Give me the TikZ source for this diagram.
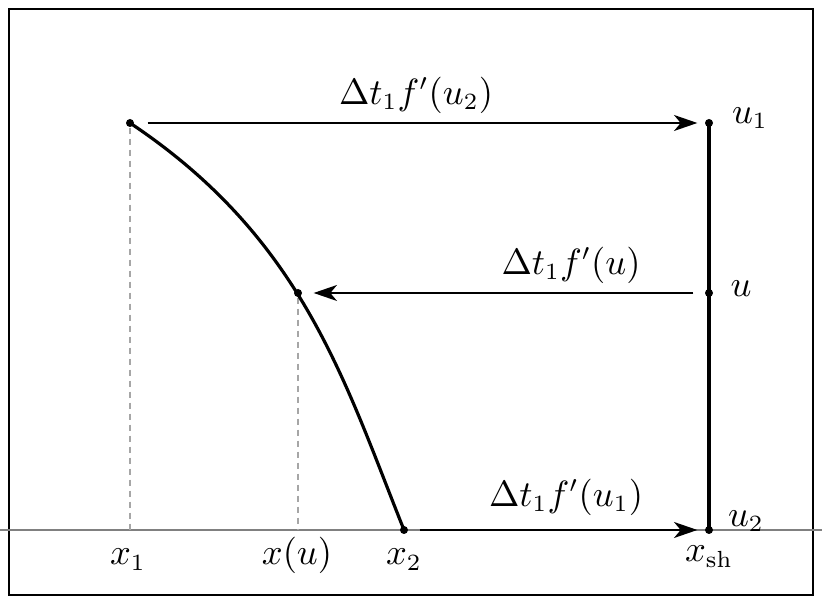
\documentclass[tikz,border=0pt]{standalone}
\usetikzlibrary{arrows.meta}
\begin{document}
\begin{tikzpicture}[x=0.3pt,y=-0.3pt,
  dotnode/.style={circle,fill=black,inner sep=0pt,minimum size=2.4pt},
  lbl/.style={inner sep=0pt,font=\fontsize{10.6}{12}\selectfont},
  flowarrow/.style={-{Stealth[length=7pt,width=4.8pt,inset=2pt]},line width=0.4pt},
  guide/.style={gray!70,dashed,dash pattern=on 2pt off 1.3pt,line width=0.45pt},
  thickline/.style={line width=0.95pt}]
\useasboundingbox (0,0) rectangle (822,604);
\draw[line width=0.6pt] (9,9) rectangle (813,595);
\draw[gray,line width=0.45pt] (0,530) -- (822,530);
% points
\node[dotnode] (p1) at (130,123) {};
\node[dotnode] (pu) at (298,293) {};
\node[dotnode] (p2) at (404,530) {};
\node[dotnode] (s1) at (709,123) {};
\node[dotnode] (su) at (709,293) {};
\node[dotnode] (s2) at (709,530) {};
\coordinate (b1) at (130,530);
\coordinate (bu) at (298,530);
% guides
\draw[guide] (p1) -- (b1);
\draw[guide] (pu) -- (bu);
% curve
\draw[thickline] (p1.center) .. controls (302.5,238) and (344,380) .. (p2.center);
% shock line
\draw[thickline] (s1.center) -- (s2.center);
% arrows
\draw[flowarrow,shorten <=3.9pt,shorten >=2.1pt] (p1) -- (s1);
\draw[flowarrow,shorten <=3.3pt,shorten >=3.3pt] (su) -- (pu);
\draw[flowarrow,shorten <=3.3pt,shorten >=2.1pt] (p2) -- (s2);
% labels
\node[lbl] (l1) at (416,95) {$\Delta t_1 f'(u_2)$};
\node[lbl] (l2) at (571,265) {$\Delta t_1 f'(u)$};
\node[lbl] (l3) at (566,497) {$\Delta t_1 f'(u_1)$};
\node[lbl] (tu1) at (750,118) {$u_1$};
\node[lbl] (tu) at (741,289) {$u$};
\node[lbl] (tu2) at (746,521) {$u_2$};
\node[lbl,anchor=base] (tx1) at (128,565) {$x_1$};
\node[lbl,anchor=base] (txu) at (297,565) {$x(u)$};
\node[lbl,anchor=base] (tx2) at (404,565) {$x_2$};
\node[lbl,anchor=base] (txs) at (709,562) {$x_{\mathrm{sh}}$};
\end{tikzpicture}
\end{document}
